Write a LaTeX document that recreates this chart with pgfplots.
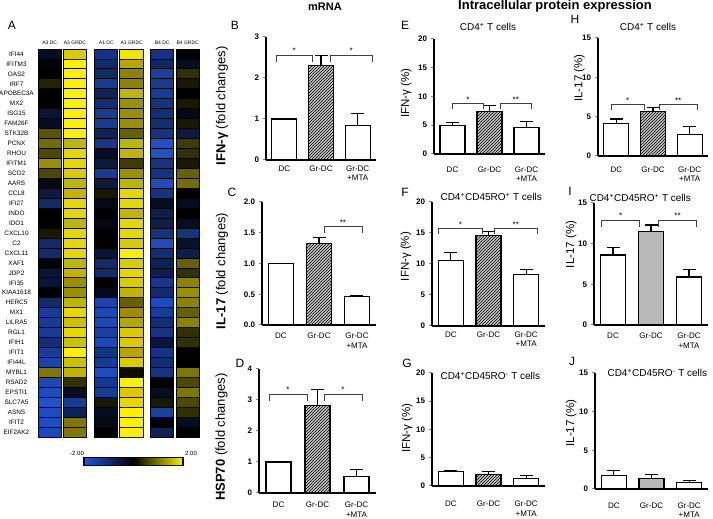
\documentclass[border=0pt]{standalone}
\usepackage{pgfplots}
\pgfplotsset{compat=1.18}
\usepackage{pgfplotstable}
\usepackage{fontspec}
\setmainfont{Liberation Sans}
\usetikzlibrary{patterns}
\newcommand{\fs}[2]{\fontsize{#1}{#2}\selectfont}
\pgfdeclareplotmark{cell}{\pgfpathrectangle{\pgfpoint{-11.6pt}{-4.975pt}}{\pgfpoint{23.2pt}{9.95pt}}\pgfusepathqfillstroke}
\newcommand{\brk}[5]{\draw[line width=0.7pt, black!75] (axis cs:#1,#3) -- (axis cs:#1,#4) -- node[above=0.8pt, text=black, font=\fs{8}{8}, inner sep=0pt] {#5} (axis cs:#2,#4) -- (axis cs:#2,#3);}

\pgfplotstableread{
gene A3DC A3GR A1DC A1GR B4DC B4GR
IFI44 -0.3 1.7 -1.2 1.9 -1.2 0.0
IFITM3 -0.1 2.0 -1.0 1.4 -0.9 -0.3
OAS2 0.0 2.0 -1.0 1.1 -1.5 0.4
IRF7 0.3 2.0 -1.4 1.1 -1.4 0.2
APOBEC3A 0.0 2.0 -0.8 1.5 -1.4 0.0
MX2 0.0 2.0 -1.1 1.2 -1.2 0.2
ISG15 -0.5 2.0 -1.4 1.2 -1.1 -0.2
FAM26F -0.3 2.0 -1.4 1.2 -1.1 0.2
STK32B 0.7 2.0 -0.8 0.8 -1.2 -0.6
PCNX 0.9 1.5 -1.3 1.5 -1.9 0.5
RHOU 0.6 1.8 -0.3 1.5 -1.9 0.4
IFITM1 1.2 1.8 -0.6 0.5 -1.2 0.2
SCO2 0.6 1.7 -1.4 1.2 -1.2 0.8
AARS -0.2 1.5 -0.6 1.5 -1.8 0.9
CCL8 -0.6 1.5 0.2 1.8 -1.2 0.0
IFI27 -1.0 1.8 -0.2 1.8 -0.3 -0.3
INDO 0.0 1.8 0.0 1.5 -0.7 0.0
IDO1 0.0 1.5 -0.2 1.8 -0.7 -0.3
CXCL10 0.2 1.8 0.0 1.8 -1.2 -1.2
C2 -1.0 1.8 0.0 1.7 -1.8 -0.4
CXCL11 -1.0 1.8 -0.5 2.0 -1.1 -0.7
XAF1 0.0 1.5 -1.0 1.7 -0.8 0.8
JDP2 -0.5 1.5 -1.0 1.8 -0.7 0.4
IFI35 -0.5 1.2 0.0 1.7 -1.3 1.1
KIAA1618 0.0 1.2 -0.2 1.5 -1.0 1.2
HERC5 -1.0 1.5 -1.6 0.8 -1.8 1.1
MX1 -1.4 1.8 -1.7 1.2 -1.4 0.8
LILRA5 -1.4 1.6 -1.7 1.4 -1.1 1.1
RGL1 -1.4 1.8 -1.5 1.7 -1.2 0.4
IFIH1 -1.1 1.6 -1.7 1.7 -0.5 0.4
IFIT1 -1.4 2.0 -1.2 1.4 -1.2 0.0
IFI44L -1.6 1.6 -1.4 1.7 -1.1 0.0
MYBL1 1.0 1.5 -1.8 0.1 -1.2 1.0
RSAD2 -1.7 0.4 -1.3 2.0 0.0 0.6
EPSTI1 -1.8 -0.3 -1.4 1.7 -0.3 1.0
SLC7A5 -1.9 -1.4 0.2 1.8 0.2 0.6
ASNS -1.8 -0.8 -0.3 2.0 -1.5 0.4
IFIT2 -1.8 1.0 -0.2 2.0 0.0 -0.3
EIF2AK2 -1.7 1.0 0.0 2.0 -0.8 0.0
}\heat

\pgfplotsset{
 bp/.style={scale only axis, axis lines=left, axis line style={-, line width=1.1pt},
  xmin=-0.5, xmax=2.5, ymin=0, clip=false,
  xtick={0,1,2}, xticklabels={DC,Gr-DC,{Gr-DC\\+MTA}},
  xticklabel style={align=center, font=\fs{8}{9.5}},
  xtick style={draw=none},
  ytick style={line width=1pt}, tick align=outside, major tick length=3.5pt,
  yticklabel style={font=\fs{8}{9}\bfseries},
  /pgf/number format/assume math mode=true,
  ylabel style={font=\fs{11.5}{12}, anchor=center},
 },
 wbar/.style={ybar, bar width=25pt, bar shift=0pt, draw=black, line width=1.1pt, fill=white,
   error bars/y dir=plus, error bars/y explicit,
   error bars/error bar style={line width=1.1pt, black},
   error bars/error mark options={rotate=90, mark size=6.5pt, line width=1.1pt, black}},
 hbar/.style={wbar, fill=gray!45, postaction={pattern=north east lines}},
 sbar/.style={wbar, fill=gray!55},
 cellplot/.style={scatter, only marks, mark=cell, point meta=explicit,
   scatter/use mapped color={draw=black, fill=mapped color}, line width=0.8pt},
}

\begin{document}
\begin{tikzpicture}
\path[use as bounding box] (0,0) rectangle (713pt,519pt);

% ---------- Heatmap ----------
\begin{axis}[at={(30pt,49pt)}, anchor=south west, scale only axis,
  width=175pt, height=430pt,
  xmin=-0.777, xmax=6.126, ymin=-3.81, ymax=39.405,
  axis line style={draw=none}, tick style={draw=none}, major tick length=0pt,
  xtick=\empty, ytick={0,...,38},
  yticklabels={EIF2AK2,IFIT2,ASNS,SLC7A5,EPSTI1,RSAD2,MYBL1,IFI44L,IFIT1,IFIH1,RGL1,LILRA5,MX1,HERC5,KIAA1618,IFI35,JDP2,XAF1,CXCL11,C2,CXCL10,IDO1,INDO,IFI27,CCL8,AARS,SCO2,IFITM1,RHOU,PCNX,STK32B,FAM26F,ISG15,MX2,APOBEC3A,IRF7,OAS2,IFITM3,IFI44},
  yticklabel style={anchor=center, xshift=-13.5pt, font=\fs{6.4}{7}},
  colormap={bky}{rgb255=(35,85,210) rgb255=(0,0,0) rgb255=(255,240,0)},
  point meta min=-2, point meta max=2,
  colorbar horizontal,
  colorbar style={at={(parent axis.south west)}, anchor=south west, xshift=54pt, yshift=13pt,
    scale only axis, width=99pt, height=8pt, xtick=\empty, axis line style={line width=1.5pt}},
  clip=false]
\addplot[cellplot] table[x expr=0, y expr=38-\coordindex, meta=A3DC] \heat;
\addplot[cellplot] table[x expr=1, y expr=38-\coordindex, meta=A3GR] \heat;
\addplot[cellplot] table[x expr=2.22, y expr=38-\coordindex, meta=A1DC] \heat;
\addplot[cellplot] table[x expr=3.22, y expr=38-\coordindex, meta=A1GR] \heat;
\addplot[cellplot] table[x expr=4.44, y expr=38-\coordindex, meta=B4DC] \heat;
\addplot[cellplot] table[x expr=5.44, y expr=38-\coordindex, meta=B4GR] \heat;
\end{axis}
\begin{scope}[every node/.style={font=\fs{5}{5}, inner sep=0pt}]
\node at (49.7pt,476pt) {A3 DC};
\node at (75pt,476pt) {A3 GRDC};
\node at (106.3pt,476pt) {A1 DC};
\node at (131.7pt,476pt) {A1 GRDC};
\node at (162.2pt,476pt) {B4 DC};
\node at (187.7pt,476pt) {B4 GRDC};
\end{scope}
\node[font=\fs{6}{6}] at (77pt,66pt) {-2.00};
\node[font=\fs{6}{6}] at (191pt,66pt) {2.00};
\node[font=\fs{12}{12}] at (12pt,494pt) {A};

% ---------- titles ----------
\node[font=\fs{11}{12}\bfseries, inner sep=0pt] at (325pt,512pt) {mRNA};
\node[font=\fs{13}{14}\bfseries, inner sep=0pt] at (555pt,513pt) {Intracellular protein expression};
\begin{scope}[every node/.style={font=\fs{12}{12}, inner sep=1pt}]
\node at (235pt,494pt) {B};
\node at (232pt,327pt) {C};
\node at (240pt,156pt) {D};
\node at (405pt,494pt) {E};
\node at (405pt,327pt) {F};
\node at (407pt,156pt) {G};
\node at (575pt,500pt) {H};
\node at (570pt,328pt) {I};
\node at (572pt,158pt) {J};
\end{scope}
\begin{scope}[every node/.style={font=\fs{10}{11}}]
\node at (488pt,492pt) {CD4\textsuperscript{+} T cells};
\node[anchor=west] at (437pt,322pt) {CD4\textsuperscript{+}CD45RO\textsuperscript{+} T cells};
\node[anchor=west] at (437pt,143pt) {CD4\textsuperscript{+}CD45RO\textsuperscript{-} T cells};
\node at (648pt,492pt) {CD4\textsuperscript{+} T cells};
\node[anchor=west] at (586pt,321pt) {CD4\textsuperscript{+}CD45RO\textsuperscript{+} T cells};
\node[anchor=west] at (604pt,146pt) {CD4\textsuperscript{+}CD45RO\textsuperscript{-} T cells};
\end{scope}

% ---------- B ----------
\begin{axis}[bp, at={(266pt,359pt)}, anchor=south west, width=110pt, height=123pt,
  ymax=3, ytick={0,1,2,3},
  ylabel={\textbf{IFN-γ} (fold changes)},
  ylabel style={font=\fs{13}{14}, at={(axis description cs:-0.4,0.44)}},
  xticklabel style={yshift=1.5pt}]
\addplot[wbar] coordinates {(0,1) +- (0,0) (2,0.85) +- (0,0.28)};
\addplot[hbar] coordinates {(1,2.3) +- (0,0.25)};
\brk{-0.23}{0.77}{2.40}{2.56}{*}
\brk{1.25}{2.39}{2.40}{2.56}{*}
\end{axis}

% ---------- C ----------
\begin{axis}[bp, at={(262pt,194pt)}, anchor=south west, width=114pt, height=123pt,
  ymax=2, ytick={0,0.5,1,1.5,2},
  yticklabel style={/pgf/number format/fixed, /pgf/number format/fixed zerofill, /pgf/number format/precision=1},
  ylabel={\textbf{IL-17} (fold changes)},
  ylabel style={font=\fs{13}{14}, at={(axis description cs:-0.35,0.44)}},
  xticklabel style={yshift=-1pt}]
\addplot[wbar] coordinates {(0,1) +- (0,0) (2,0.47) +- (0,0.01)};
\addplot[hbar] coordinates {(1,1.33) +- (0,0.1)};
\brk{1.13}{2.13}{1.49}{1.6}{**}
\end{axis}

% ---------- D ----------
\begin{axis}[bp, at={(259pt,26pt)}, anchor=south west, width=117pt, height=124pt,
  ymax=4, ytick={0,1,2,3,4},
  ylabel={\textbf{HSP70} (fold changes)},
  ylabel style={font=\fs{13}{14}, at={(axis description cs:-0.32,0.45)}},
  xticklabel style={yshift=-2pt}]
\addplot[wbar] coordinates {(0,1) +- (0,0) (2,0.52) +- (0,0.25)};
\addplot[hbar] coordinates {(1,2.82) +- (0,0.52)};
\brk{-0.24}{0.73}{2.98}{3.19}{*}
\brk{1.17}{2.14}{2.98}{3.19}{*}
\end{axis}

% ---------- E ----------
\begin{axis}[bp, at={(434pt,365pt)}, anchor=south west, width=111pt, height=115pt,
  ymax=20, ytick={0,5,10,15,20},
  ylabel={IFN-γ (\%)},
  ylabel style={at={(axis description cs:-0.25,0.53)}},
  xticklabel style={yshift=-5.5pt}]
\addplot[wbar] coordinates {(0,4.9) +- (0,0.5) (2,4.6) +- (0,1.0)};
\addplot[hbar] coordinates {(1,7.4) +- (0,1.0)};
\brk{0.0}{0.83}{7.8}{8.8}{*}
\brk{1.28}{2.14}{7.8}{8.8}{**}
\end{axis}

% ---------- F ----------
\begin{axis}[bp, at={(432pt,193pt)}, anchor=south west, width=113pt, height=124pt,
  ymax=20, ytick={0,5,10,15,20},
  ylabel={IFN-γ (\%)},
  ylabel style={at={(axis description cs:-0.23,0.56)}},
  xticklabel style={yshift=1.5pt}]
\addplot[wbar] coordinates {(0,10.5) +- (0,1.4) (2,8.3) +- (0,0.8)};
\addplot[hbar] coordinates {(1,14.6) +- (0,0.7)};
\brk{-0.32}{0.83}{14.8}{15.75}{*}
\brk{1.15}{2.3}{14.8}{15.75}{**}
\end{axis}

% ---------- G ----------
\begin{axis}[bp, at={(432pt,33pt)}, anchor=south west, width=113pt, height=113pt,
  ymax=20, ytick={0,5,10,15,20},
  ylabel={IFN-γ (\%)},
  ylabel style={at={(axis description cs:-0.22,0.51)}},
  xticklabel style={yshift=-8pt}]
\addplot[wbar] coordinates {(0,2.5) +- (0,0.3) (2,1.4) +- (0,0.4)};
\addplot[hbar] coordinates {(1,2.1) +- (0,0.5)};
\end{axis}

% ---------- H ----------
\begin{axis}[bp, at={(598pt,363pt)}, anchor=south west, width=110pt, height=118pt,
  ymax=15, ytick={0,5,10,15},
  ylabel={IL-17 (\%)},
  ylabel style={at={(axis description cs:-0.17,0.66)}},
  xticklabel style={yshift=-3.5pt}]
\addplot[wbar] coordinates {(0,4.1) +- (0,0.6) (2,2.7) +- (0,1.0)};
\addplot[hbar] coordinates {(1,5.6) +- (0,0.6)};
\brk{-0.14}{0.76}{5.9}{6.57}{*}
\brk{1.17}{2.2}{5.9}{6.57}{**}
\end{axis}

% ---------- I ----------
\begin{axis}[bp, at={(594pt,194pt)}, anchor=south west, width=114pt, height=122pt,
  ymax=15, ytick={0,5,10,15},
  ylabel={IL-17 (\%)},
  ylabel style={at={(axis description cs:-0.2,0.66)}},
  xticklabel style={yshift=-1pt}]
\addplot[wbar] coordinates {(0,8.6) +- (0,0.9) (2,5.9) +- (0,0.9)};
\addplot[sbar] coordinates {(1,11.5) +- (0,0.8)};
\brk{-0.3}{0.7}{12.1}{12.9}{*}
\brk{1.2}{2.2}{12.1}{12.9}{**}
\end{axis}

% ---------- J ----------
\begin{axis}[bp, at={(595pt,30pt)}, anchor=south west, width=113pt, height=116pt,
  ymax=15, ytick={0,5,10,15},
  ylabel={IL-17 (\%)},
  ylabel style={at={(axis description cs:-0.21,0.57)}},
  xticklabel style={yshift=-6.5pt}]
\addplot[wbar] coordinates {(0,1.8) +- (0,0.55) (2,0.8) +- (0,0.35)};
\addplot[sbar] coordinates {(1,1.35) +- (0,0.5)};
\end{axis}
\end{tikzpicture}
\end{document}
